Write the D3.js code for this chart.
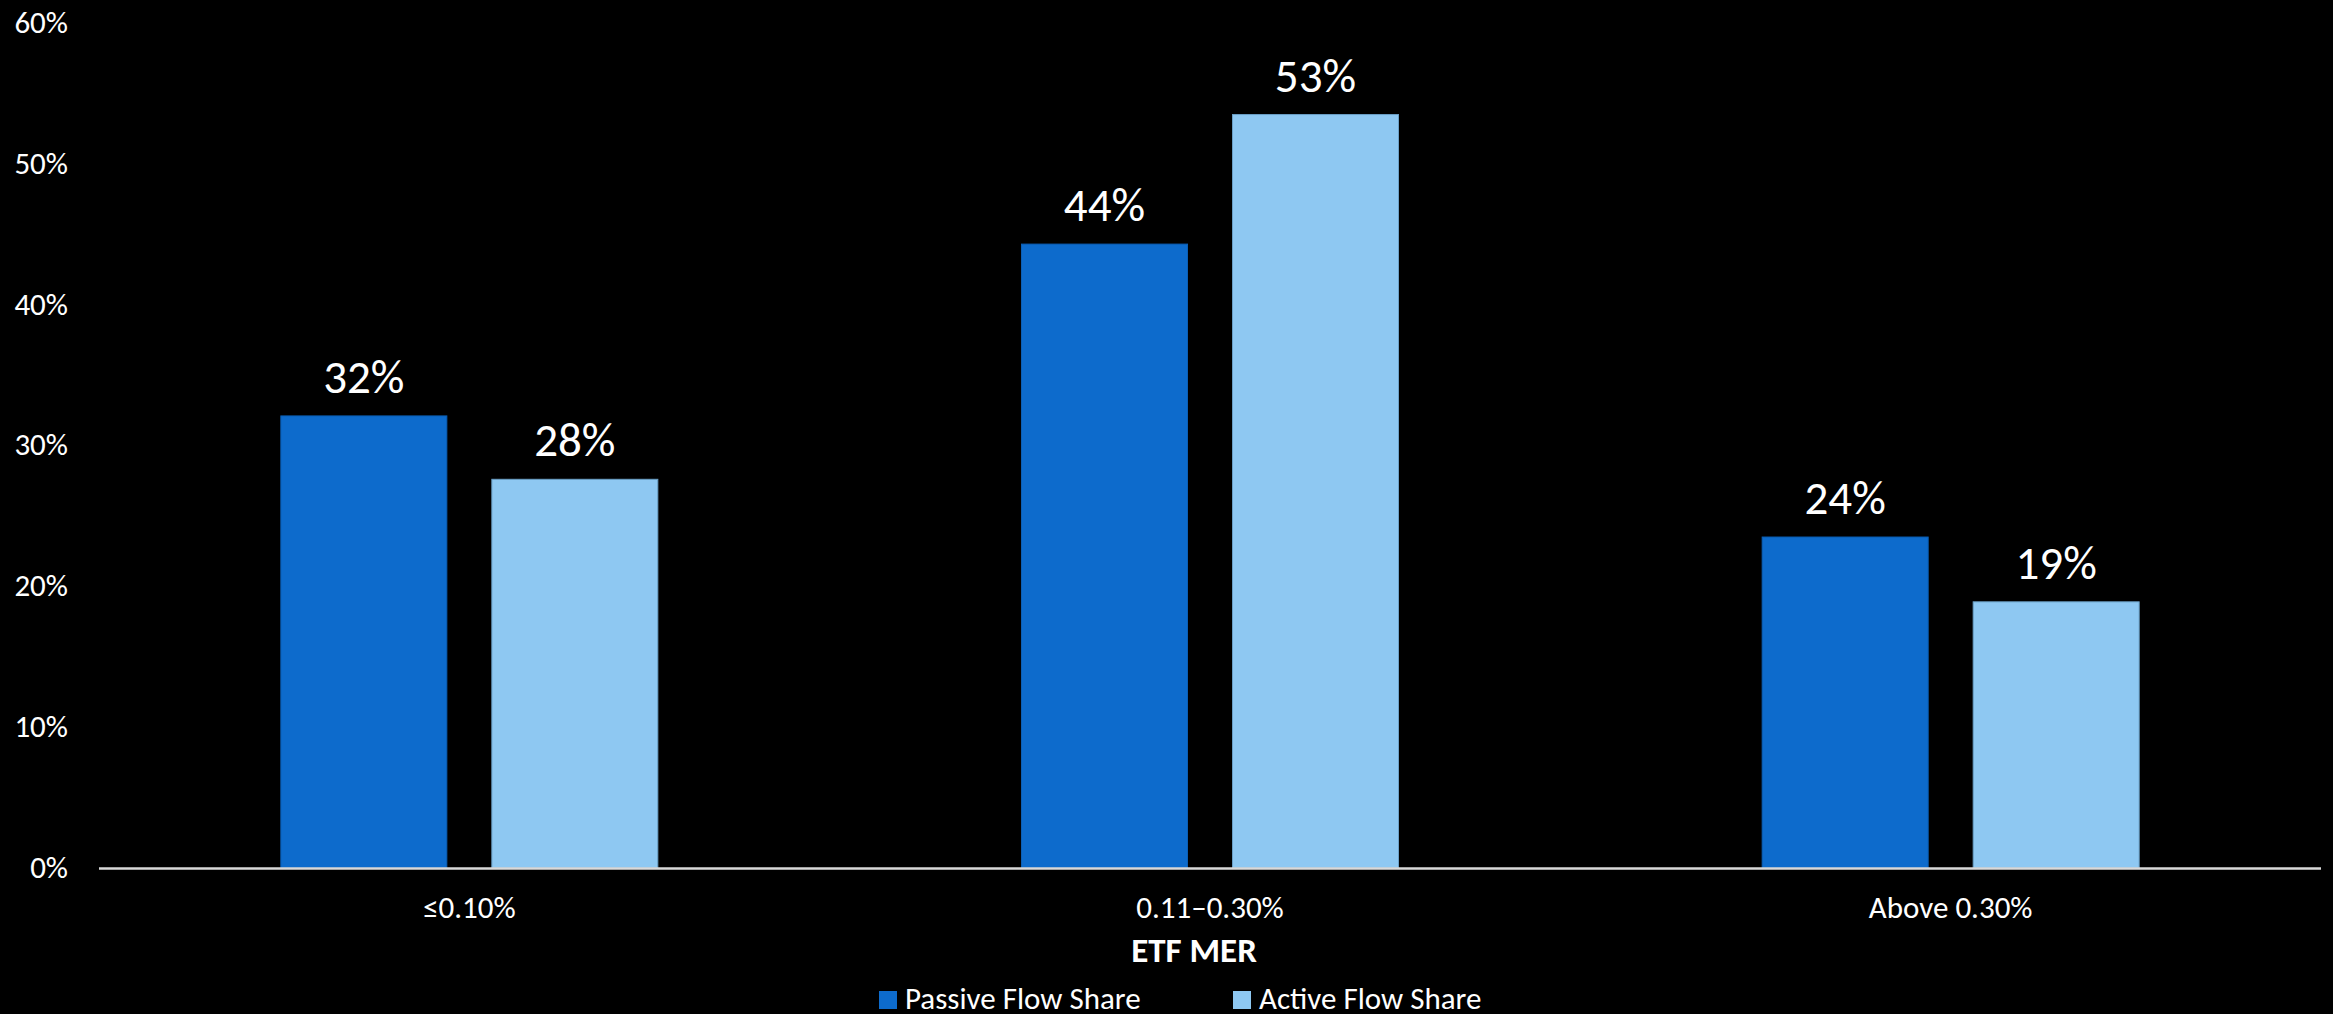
<!DOCTYPE html>
<html>
<head>
<meta charset="utf-8">
<script src="https://cdn.jsdelivr.net/npm/d3@7"></script>
<style>
  html, body { margin: 0; padding: 0; background: #000; }
  svg text { font-family: Calibri, Carlito, "Open Sans", sans-serif; fill: #fff; }
</style>
</head>
<body>
<div id="chart"></div>
<script>
// data
var categories = ['\u22640.10%', '0.11\u20130.30%', 'Above 0.30%'];
var seriesNames = ['Passive Flow Share', 'Active Flow Share'];
var passiveValues = [32.1, 44.3, 23.5];
var activeValues = [27.6, 53.5, 18.9];
var passiveLabels = ['32%', '44%', '24%'];
var activeLabels = ['28%', '53%', '19%'];
var yTicks = [0, 10, 20, 30, 40, 50, 60];
var xTitle = 'ETF MER';

var colors = ['#0D6BCC', '#8EC8F2'];
var strokes = ['#0B5FB5', '#6A9FC6'];

var W = 2333, H = 1014;
var plotLeft = 99, plotRight = 2321, plotBottom = 868, plotTop = 23;

var svg = d3.select('#chart')
  .append('svg')
    .attr('width', W)
    .attr('height', H);

var y = d3.scaleLinear()
  .domain([0, 60])
  .range([plotBottom, plotTop]);

var x0 = d3.scaleBand()
  .domain(categories)
  .range([plotLeft, plotRight]);

var half = 188.5;
var x1 = d3.scaleBand()
  .domain(seriesNames)
  .range([x0.bandwidth() / 2 - half, x0.bandwidth() / 2 + half])
  .paddingInner(45 / 211);

var rows = categories.map(function(c, i) {
  return {
    cat: c,
    vals: [
      { s: seriesNames[0], v: passiveValues[i], label: passiveLabels[i], k: 0 },
      { s: seriesNames[1], v: activeValues[i], label: activeLabels[i], k: 1 }
    ]
  };
});

// y tick labels (no axis line, no gridlines)
svg.selectAll('text.ytick')
    .data(yTicks)
  .enter().append('text')
    .attr('class', 'ytick')
    .attr('x', 68)
    .attr('y', function(d) { return y(d); })
    .attr('dy', '0.32em')
    .attr('text-anchor', 'end')
    .style('font-size', '31px')
    .text(function(d) { return d + '%'; });

var groups = svg.selectAll('g.grp')
    .data(rows)
  .enter().append('g')
    .attr('class', 'grp')
    .attr('transform', function(d) { return 'translate(' + x0(d.cat) + ',0)'; });

groups.selectAll('rect')
    .data(function(d) { return d.vals; })
  .enter().append('rect')
    .attr('x', function(d) { return x1(d.s); })
    .attr('y', function(d) { return y(d.v); })
    .attr('width', x1.bandwidth())
    .attr('height', function(d) { return y(0) - y(d.v); })
    .attr('fill', function(d) { return colors[d.k]; })
    .attr('stroke', function(d) { return strokes[d.k]; })
    .attr('stroke-width', 1);

groups.selectAll('text.val')
    .data(function(d) { return d.vals; })
  .enter().append('text')
    .attr('class', 'val')
    .attr('x', function(d) { return x1(d.s) + x1.bandwidth() / 2; })
    .attr('y', function(d) { return y(d.v) - 23; })
    .attr('text-anchor', 'middle')
    .style('font-size', '47px')
    .text(function(d) { return d.label; });

// baseline
svg.append('line')
  .attr('x1', plotLeft)
  .attr('x2', plotRight)
  .attr('y1', y(0) + 0.5)
  .attr('y2', y(0) + 0.5)
  .attr('stroke', '#d9d9d9')
  .attr('stroke-width', 2.5);

// category labels
svg.selectAll('text.cat')
    .data(categories)
  .enter().append('text')
    .attr('class', 'cat')
    .attr('x', function(d) { return x0(d) + x0.bandwidth() / 2; })
    .attr('y', 918)
    .attr('text-anchor', 'middle')
    .style('font-size', '31px')
    .text(String);

svg.append('text')
  .attr('x', (plotLeft + plotRight) / 2 - 16)
  .attr('y', 962)
  .attr('text-anchor', 'middle')
  .style('font-size', '35px')
  .style('font-weight', 'bold')
  .text(xTitle);

// legend
var legendX = [879, 1233];
var leg = svg.selectAll('g.leg')
    .data(seriesNames)
  .enter().append('g')
    .attr('class', 'leg')
    .attr('transform', function(d, i) { return 'translate(' + legendX[i] + ',0)'; });

leg.append('rect')
  .attr('x', 0)
  .attr('y', 991)
  .attr('width', 18)
  .attr('height', 18)
  .attr('fill', function(d, i) { return colors[i]; });

leg.append('text')
  .attr('x', 26)
  .attr('y', 1009)
  .style('font-size', '31px')
  .text(String);
</script>
</body>
</html>
